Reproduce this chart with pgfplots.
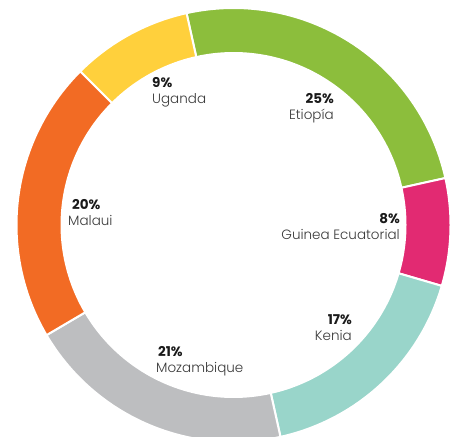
\documentclass[border=0pt]{standalone}
\usepackage{pgfplots}
\pgfplotsset{compat=1.18}
\usepackage{fontspec}
\setmainfont{Poppins}[UprightFont={* Light},BoldFont={* Bold}]
\definecolor{cGreen}{HTML}{8CBE3C}
\definecolor{cMag}{HTML}{E22A72}
\definecolor{cTeal}{HTML}{99D5CA}
\definecolor{cGrey}{HTML}{BDBEC0}
\definecolor{cOrange}{HTML}{F26B24}
\definecolor{cYellow}{HTML}{FFD03C}
\definecolor{cNum}{HTML}{1A1A1A}
\definecolor{cLab}{HTML}{3A3A3A}
% shares (%), clockwise from the top
\def\sEtiopia{25}
\def\sGuinea{8}
\def\sKenia{17}
\def\sMozambique{20}
\def\sMalaui{21}
\def\sUganda{9}
\def\cx{233.5}
\def\cy{211}
\def\Ro{217}
\def\Ri{173}
\pgfmathsetmacro\aA{102.5}
\pgfmathsetmacro\aB{\aA-3.6*\sEtiopia}
\pgfmathsetmacro\aC{\aB-3.6*\sGuinea}
\pgfmathsetmacro\aD{\aC-3.6*\sKenia}
\pgfmathsetmacro\aE{\aD-3.6*\sMozambique}
\pgfmathsetmacro\aF{\aE-3.6*\sMalaui}
\pgfmathsetmacro\aG{\aF-3.6*\sUganda}
\newcommand\numf{\fontsize{13.5bp}{16bp}\selectfont\bfseries\color{cNum}}
\newcommand\labf{\fontsize{13.5bp}{16bp}\selectfont\color{cLab}}
\begin{document}
\begin{tikzpicture}
\begin{axis}[scale only axis, width=460bp, height=436bp,
  xmin=0, xmax=460, ymin=0, ymax=436,
  axis line style={draw=none}, ticks=none, clip=true]
\addplot[fill=cGreen, draw=white, line width=2bp, domain=\aB:\aA, samples=90, variable=\t]
  ({\cx+\Ro*cos(\t)},{\cy+\Ro*sin(\t)}) -- (axis cs:\cx,\cy) -- cycle;
\addplot[fill=cMag, draw=white, line width=2bp, domain=\aC:\aB, samples=40, variable=\t]
  ({\cx+\Ro*cos(\t)},{\cy+\Ro*sin(\t)}) -- (axis cs:\cx,\cy) -- cycle;
\addplot[fill=cTeal, draw=white, line width=2bp, domain=\aD:\aC, samples=70, variable=\t]
  ({\cx+\Ro*cos(\t)},{\cy+\Ro*sin(\t)}) -- (axis cs:\cx,\cy) -- cycle;
\addplot[fill=cGrey, draw=white, line width=2bp, domain=\aE:\aD, samples=80, variable=\t]
  ({\cx+\Ro*cos(\t)},{\cy+\Ro*sin(\t)}) -- (axis cs:\cx,\cy) -- cycle;
\addplot[fill=cOrange, draw=white, line width=2bp, domain=\aF:\aE, samples=80, variable=\t]
  ({\cx+\Ro*cos(\t)},{\cy+\Ro*sin(\t)}) -- (axis cs:\cx,\cy) -- cycle;
\addplot[fill=cYellow, draw=white, line width=2bp, domain=\aG:\aF, samples=40, variable=\t]
  ({\cx+\Ro*cos(\t)},{\cy+\Ro*sin(\t)}) -- (axis cs:\cx,\cy) -- cycle;
\addplot[fill=white, draw=none, domain=0:360, samples=240, variable=\t]
  ({\cx+\Ri*cos(\t)},{\cy+\Ri*sin(\t)}) -- cycle;
% labels
\node[anchor=base west, inner sep=0, font=\numf] at (axis cs:152,348) {9\%};
\node[anchor=base west, inner sep=0, font=\labf] at (axis cs:152,332) {Uganda};
\node[anchor=base east, inner sep=0, font=\numf] at (axis cs:334,332) {25\%};
\node[anchor=base east, inner sep=0, font=\labf] at (axis cs:334,316) {Etiopía};
\node[anchor=base east, inner sep=0, font=\numf] at (axis cs:400,213) {8\%};
\node[anchor=base east, inner sep=0, font=\labf] at (axis cs:400,197) {Guinea Ecuatorial};
\node[anchor=base east, inner sep=0, font=\numf] at (axis cs:352,112) {17\%};
\node[anchor=base east, inner sep=0, font=\labf] at (axis cs:352,96) {Kenia};
\node[anchor=base west, inner sep=0, font=\numf] at (axis cs:158,80) {21\%};
\node[anchor=base west, inner sep=0, font=\labf] at (axis cs:156,64) {Mozambique};
\node[anchor=base west, inner sep=0, font=\numf] at (axis cs:72,227) {20\%};
\node[anchor=base west, inner sep=0, font=\labf] at (axis cs:68,211) {Malaui};
\end{axis}
\end{tikzpicture}
\end{document}
